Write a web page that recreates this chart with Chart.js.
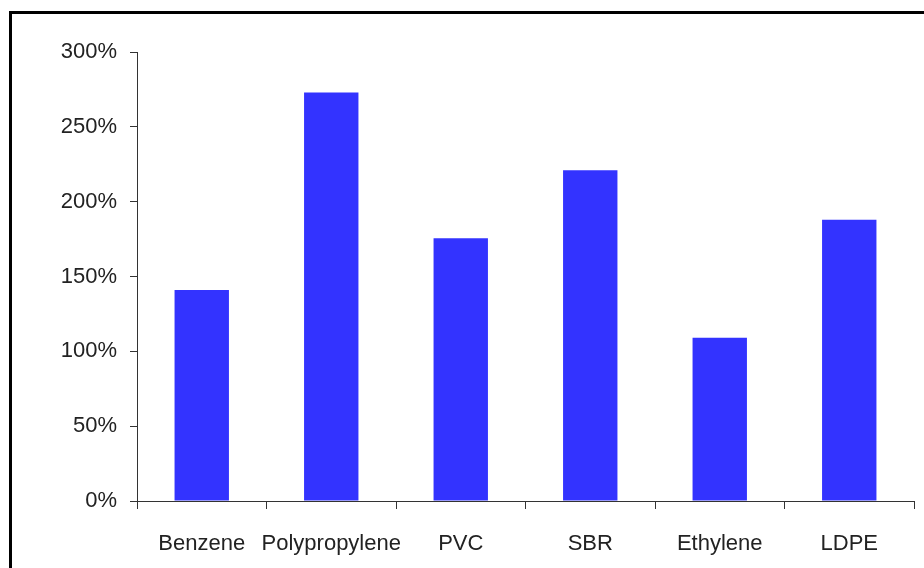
<!DOCTYPE html>
<html>
<head>
<meta charset="utf-8">
<script src="https://cdn.jsdelivr.net/npm/chart.js@4/dist/chart.umd.min.js"></script>
<style>
  html, body { margin: 0; padding: 0; background: #fff; }
  body { width: 924px; height: 568px; position: relative; overflow: hidden; }
  #frame {
    position: absolute; left: 9px; top: 11px; width: 1000px; height: 700px;
    border-top: 3px solid #000; border-left: 3px solid #000; box-sizing: border-box;
  }
  #wrap { position: absolute; left: 0; top: 0; width: 924px; height: 568px; }
</style>
</head>
<body>
<div id="frame"></div>
<div id="wrap"><canvas id="chart" width="924" height="568"></canvas></div>
<script>
// Products and their percentage values
const categories = ['Benzene', 'Polypropylene', 'PVC', 'SBR', 'Ethylene', 'LDPE'];
const values = [141, 273, 175.5, 221, 109, 188];
const yTicks = [0, 50, 100, 150, 200, 250, 300];

const axisColor = '#333';
const textColor = '#222';
const font = { family: '"Liberation Sans", Arial, sans-serif', size: 22 };

new Chart(document.getElementById('chart'), {
  type: 'bar',
  data: {
    labels: categories,
    datasets: [{
      data: values,
      backgroundColor: '#3333ff',
      borderWidth: 0,
      barPercentage: 0.42,
      categoryPercentage: 1.0
    }]
  },
  options: {
    responsive: false,
    animation: false,
    devicePixelRatio: 1,
    layout: { padding: { left: 0, right: 10, top: 52, bottom: 0 } },
    plugins: { legend: { display: false }, tooltip: { enabled: false } },
    scales: {
      x: {
        offset: true,
        grid: { display: true, offset: true, drawOnChartArea: false, drawTicks: true, tickLength: 8, color: axisColor, lineWidth: 1 },
        border: { display: true, color: axisColor, width: 1 },
        ticks: { color: textColor, font: font, padding: 22, maxRotation: 0, autoSkip: false },
        afterFit: (s) => { s.height = 67; }
      },
      y: {
        min: 0,
        max: 300,
        afterBuildTicks: (s) => { s.ticks = yTicks.map(v => ({ value: v })); },
        grid: { display: true, drawOnChartArea: false, drawTicks: true, tickLength: 7, color: axisColor, lineWidth: 1 },
        border: { display: true, color: axisColor, width: 1 },
        ticks: { color: textColor, font: font, padding: 13, callback: (v) => v + '%' },
        afterFit: (s) => { s.width = 137; }
      }
    }
  }
});
</script>
</body>
</html>
